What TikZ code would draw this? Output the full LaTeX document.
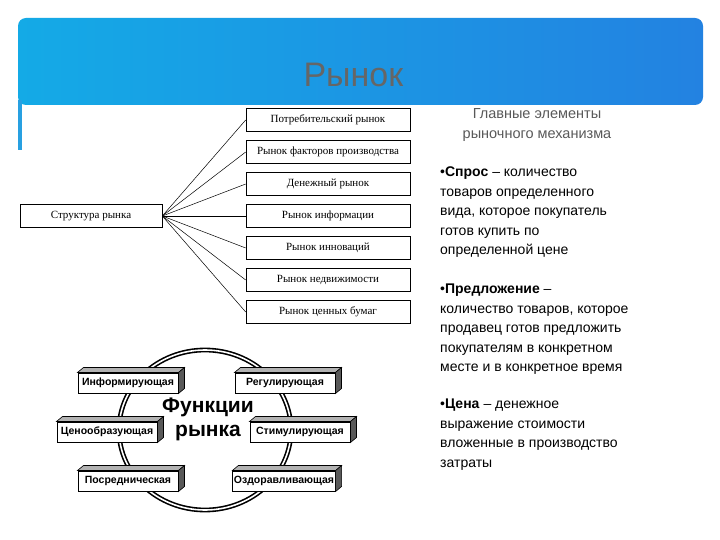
\documentclass[tikz,border=0pt]{standalone}
\usepackage{fontspec}
\setmainfont{Liberation Sans}
\newfontfamily\serifru{Liberation Serif}
\definecolor{hdrA}{RGB}{20,170,230}
\definecolor{hdrB}{RGB}{35,130,225}
\definecolor{hdrC}{RGB}{40,160,225}
\begin{document}
\begin{tikzpicture}[x=1pt,y=-1pt,
  sbox/.style={draw,line width=0.6pt,minimum height=23pt,font=\serifru\fontsize{11}{12}\selectfont,inner sep=1pt},
  fbox/.style={draw,line width=1pt,fill=white,minimum width=100pt,minimum height=20pt,font=\bfseries\fontsize{10.5}{11}\selectfont,inner sep=1pt},
  link/.style={line width=0.5pt},
  body/.style={anchor=north west,align=left,font=\fontsize{14}{19.5}\selectfont,inner sep=0pt}]
\useasboundingbox (0,0) rectangle (720,540);
\fill[white] (0,0) rectangle (720,540);
\shade[left color=hdrA,right color=hdrB,rounded corners=8pt] (18,18) -- (703,18) -- (703,105) -- (18,105) -- cycle;
\fill[hdrC] (18,100) rectangle (22,150);
\node[text=gray!80!black,font=\fontsize{34}{36}\selectfont,anchor=west] (title) at (300,75) {Рынок};
% structure
\node[sbox,minimum width=142pt] (S) at (91,216) {Структура рынка};
\foreach \n/\y/\t in {a/120/Потребительский рынок,b/152/Рынок факторов производства,c/184/Денежный рынок,d/216/Рынок информации,e/248/Рынок инноваций,f/280/Рынок недвижимости,g/312/Рынок ценных бумаг}{
  \node[sbox,minimum width=164pt] (\n) at (328,\y) {\t};
  \draw[link] (S.east) -- (\n.west);
}
% functions
\draw[line width=1.6pt,double=white,double distance=1.6pt] (205,430) ellipse (86 and 80);
\node[font=\bfseries\fontsize{21}{24}\selectfont,align=center,fill=white,inner sep=1pt] (F) at (208,419) {Функции\\рынка};
\foreach \n/\x/\y/\t in {i1/128/383/Информирующая,i2/285/383/Регулирующая,i3/107/432/Ценообразующая,i4/300/432/Стимулирующая,i5/128/481/Посредническая,i6/284/481/Оздоравливающая}{
  \node[fbox] (\n) at (\x,\y) {\t};
  \fill[gray!60,draw=black,line width=0.6pt] (\n.north west) -- ++(6,-5) -- ([shift={(6,-5)}]\n.north east) -- (\n.north east) -- cycle;
  \fill[gray!70!black,draw=black,line width=0.6pt] (\n.north east) -- ++(6,-5) -- ([shift={(6,-5)}]\n.south east) -- (\n.south east) -- cycle;
}
% right text
\node[text=gray!70!black,font=\fontsize{14.5}{20}\selectfont,align=center] (h) at (537,125) {Главные элементы\\рыночного механизма};
\node[body] (p1) at (440,167) {•\textbf{Спрос} – количество\\товаров определенного\\вида, которое покупатель\\готов купить по\\определенной цене};
\node[body] (p2) at (440,284) {•\textbf{Предложение} –\\количество товаров, которое\\продавец готов предложить\\покупателям в конкретном\\месте и в конкретное время};
\node[body] (p3) at (440,399) {•\textbf{Цена} – денежное\\выражение стоимости\\вложенные в производство\\затраты};
\end{tikzpicture}
\end{document}
